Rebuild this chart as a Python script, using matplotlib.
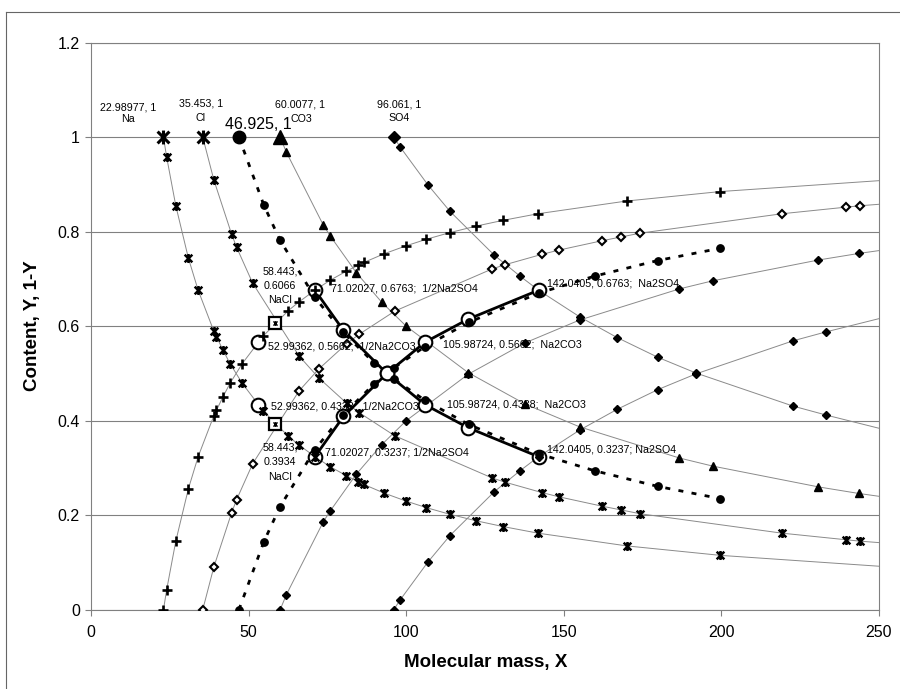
import matplotlib
matplotlib.use("Agg")
import matplotlib.pyplot as plt
from matplotlib.path import Path
from matplotlib.lines import Line2D

plt.rcParams['font.family'] = ['Liberation Sans', 'DejaVu Sans']

# ---------------- data ----------------
x_ticks = [0, 50, 100, 150, 200, 250]
x_tick_labels = ['0', '50', '100', '150', '200', '250']
y_ticks = [0, 0.2, 0.4, 0.6, 0.8, 1.0, 1.2]
y_tick_labels = ['0', '0.2', '0.4', '0.6', '0.8', '1', '1.2']

# Na : content Y and remainder 1-Y
na_x = [22.99, 24.0, 26.9, 30.9, 34.0, 39.0, 39.8, 41.9, 44.1, 48.0, 54.6, 62.6, 65.9,
        71.02, 75.8, 80.9, 84.8, 86.6, 92.9, 99.9, 106.4, 113.8, 122.3, 130.7, 141.8,
        170.0, 199.7]
na_y = [1.0, 0.958, 0.855, 0.744, 0.676, 0.589, 0.578, 0.549, 0.521, 0.479, 0.421, 0.367,
        0.349, 0.324, 0.303, 0.284, 0.271, 0.265, 0.247, 0.230, 0.216, 0.202, 0.188,
        0.176, 0.162, 0.135, 0.115]
na_rest = [0.0, 0.042, 0.145, 0.256, 0.324, 0.411, 0.422, 0.451, 0.479, 0.521, 0.579,
           0.633, 0.651, 0.676, 0.697, 0.716, 0.729, 0.735, 0.753, 0.770, 0.784, 0.798,
           0.812, 0.824, 0.838, 0.865, 0.885]
na_end = [0.092, 0.908]

# Cl
cl_x = [35.453, 39.0, 44.6, 46.2, 51.3, 66.0, 72.2, 81.1, 85.1, 96.4, 127.2, 131.3, 143.0,
        148.4, 162.2, 168.3, 174.3, 219.2, 239.6, 244.1]
cl_y = [1.0, 0.909, 0.795, 0.767, 0.691, 0.537, 0.491, 0.437, 0.417, 0.368, 0.279, 0.270,
        0.248, 0.239, 0.219, 0.211, 0.203, 0.162, 0.148, 0.145]
cl_rest = [0.0, 0.091, 0.205, 0.233, 0.309, 0.463, 0.509, 0.563, 0.583, 0.632, 0.721,
           0.730, 0.752, 0.761, 0.781, 0.789, 0.797, 0.838, 0.852, 0.855]
cl_end = [0.142, 0.858]

# 46.925 (dotted, filled circles)
mid_x = [46.925, 54.85, 59.9, 71.02, 80.0, 89.7, 96.1, 106.0, 119.8, 142.04, 159.8,
         179.8, 199.7]
mid_y = [1.0, 0.856, 0.783, 0.661, 0.587, 0.523, 0.488, 0.443, 0.392, 0.330, 0.294,
         0.261, 0.235]
mid_rest = [0.0, 0.144, 0.217, 0.339, 0.413, 0.477, 0.512, 0.557, 0.608, 0.670, 0.706,
            0.739, 0.765]

# CO3
co3_x = [60.0077, 62.0, 73.7, 75.9, 84.2, 92.2, 100.0, 119.6, 137.8, 155.0, 186.7, 197.2,
         230.7, 243.6]
co3_y = [1.0, 0.968, 0.814, 0.791, 0.713, 0.651, 0.600, 0.502, 0.435, 0.387, 0.321,
         0.304, 0.260, 0.246]
co3_rest = [0.0, 0.032, 0.186, 0.209, 0.287, 0.349, 0.400, 0.498, 0.565, 0.613, 0.679,
            0.696, 0.740, 0.754]
co3_end = [0.240, 0.760]

# SO4
so4_x = [96.061, 98.0, 106.9, 113.9, 128.0, 136.1, 142.04, 155.0, 166.9, 179.9, 191.9,
         222.7, 233.2]
so4_y = [1.0, 0.980, 0.899, 0.843, 0.750, 0.706, 0.676, 0.620, 0.576, 0.534, 0.501,
         0.431, 0.412]
so4_rest = [0.0, 0.020, 0.101, 0.157, 0.250, 0.294, 0.324, 0.380, 0.424, 0.466, 0.499,
            0.569, 0.588]
so4_end = [0.384, 0.616]

# mixture (bold line, open circles)
mix_x = [71.02027, 80.1, 93.85, 105.98724, 119.7, 142.0405]
mix_down = [0.6763, 0.591, 0.500, 0.4338, 0.385, 0.3237]
mix_up = [0.3237, 0.409, 0.500, 0.5662, 0.615, 0.6763]
half_na2co3_x = [52.99362, 52.99362]
half_na2co3_y = [0.5662, 0.4338]
nacl_x = [58.443, 58.443]
nacl_y = [0.6066, 0.3934]

# ---------------- figure ----------------
THIN = '#8a8a8a'
star = Path([(0, -1), (0, 1), (-0.85, -0.85), (0.85, 0.85), (-0.85, 0.85), (0.85, -0.85)],
            [Path.MOVETO, Path.LINETO, Path.MOVETO, Path.LINETO, Path.MOVETO, Path.LINETO])

fig = plt.figure(figsize=(9, 6.89), dpi=100)
ax = fig.add_axes([91 / 900, 1 - 609.7 / 689, 788 / 900, 567 / 689])
ax.set_xlim(0, 250)
ax.set_ylim(0, 1.2)
ax.set_xticks(x_ticks)
ax.set_xticklabels(x_tick_labels)
ax.set_yticks(y_ticks)
ax.set_yticklabels(y_tick_labels)
ax.yaxis.grid(True, color='#808080', lw=0.8)
ax.set_axisbelow(True)
for s in ax.spines.values():
    s.set_color('#808080')
    s.set_linewidth(0.8)
ax.tick_params(direction='out', length=4, color='#808080', width=0.8,
               labelsize=11.5, pad=4)
ax.tick_params(axis='x', pad=7)


def thin(xs, ys, end=None):
    xx = list(xs) + ([250] if end is not None else [])
    yy = list(ys) + ([end] if end is not None else [])
    ax.plot(xx, yy, color=THIN, lw=0.7, zorder=2)


thin(na_x, na_y, na_end[0])
thin(na_x, na_rest, na_end[1])
thin(cl_x, cl_y, cl_end[0])
thin(cl_x, cl_rest, cl_end[1])
thin(co3_x, co3_y, co3_end[0])
thin(co3_x, co3_rest, co3_end[1])
thin(so4_x, so4_y, so4_end[0])
thin(so4_x, so4_rest, so4_end[1])

# dotted 46.925 curves
for yy in (mid_y, mid_rest):
    ax.plot(mid_x, yy, color='k', lw=2.0, ls=(0, (1.8, 3.0)), zorder=2.5)

# bold mixture lines + open circles
ax.plot(mix_x, mix_down, color='k', lw=2.0, zorder=3)
ax.plot(mix_x, mix_up, color='k', lw=2.0, zorder=3)
oc = dict(ls='none', marker='o', ms=9.8, mfc='white', mec='k', mew=1.5, zorder=3.5)
ax.plot(mix_x, mix_down, **oc)
ax.plot(mix_x, mix_up, **oc)
ax.plot(half_na2co3_x, half_na2co3_y, **oc)

K = 'k'
# Na
ax.plot(na_x[1:], na_y[1:], ls='none', marker=star, ms=6.5, mew=1.8, color=K, zorder=5)
ax.plot(na_x[:1], na_y[:1], ls='none', marker=star, ms=10, mew=2.2, color=K, zorder=5)
ax.plot(na_x, na_rest, ls='none', marker='+', ms=7.5, mew=1.9, color=K, zorder=5)
# Cl
ax.plot(cl_x[1:], cl_y[1:], ls='none', marker=star, ms=6.5, mew=1.8, color=K, zorder=5)
ax.plot(cl_x[:1], cl_y[:1], ls='none', marker=star, ms=10, mew=2.2, color=K, zorder=5)
ax.plot(cl_x, cl_rest, ls='none', marker='D', ms=3.6, mfc='white', mec=K, mew=1.5, zorder=5)
# 46.925
ax.plot(mid_x[1:], mid_y[1:], ls='none', marker='o', ms=5.3, color=K, zorder=5)
ax.plot(mid_x[:1], mid_y[:1], ls='none', marker='o', ms=9, color=K, zorder=5)
ax.plot(mid_x, mid_rest, ls='none', marker='o', ms=5.3, color=K, zorder=5)
# CO3
ax.plot(co3_x[1:], co3_y[1:], ls='none', marker='^', ms=5.8, color=K, zorder=5)
ax.plot(co3_x[:1], co3_y[:1], ls='none', marker='^', ms=9.5, color=K, zorder=5)
ax.plot(co3_x, co3_rest, ls='none', marker='D', ms=3.9, color=K, zorder=5)
# SO4
ax.plot(so4_x[1:6] + so4_x[7:], so4_y[1:6] + so4_y[7:], ls='none', marker='D', ms=3.9,
        color=K, zorder=5)
ax.plot(so4_x[:1], so4_y[:1], ls='none', marker='D', ms=6.2, color=K, zorder=5)
ax.plot(so4_x, so4_rest, ls='none', marker='D', ms=3.9, color=K, zorder=5)
# NaCl boxes
ax.plot(nacl_x, nacl_y, ls='none', marker='s', ms=8, mfc='white', mec=K, mew=1.6, zorder=6)
ax.plot(nacl_x, nacl_y, ls='none', marker=star, ms=3.5, mew=1.0, color=K, zorder=6.5)

# ---------------- labels ----------------
fs = 7.7
ctr = [("22.98977, 1", 11.8, 1.063), ("Na", 11.8, 1.038),
       ("35.453, 1", 34.85, 1.072), ("Cl", 34.9, 1.040),
       ("60.0077, 1", 66.3, 1.070), ("CO3", 66.6, 1.038),
       ("96.061, 1", 97.8, 1.070), ("SO4", 97.8, 1.040),
       ("58.443,", 59.9, 0.715), ("0.6066", 59.9, 0.686), ("NaCl", 59.9, 0.655),
       ("58.443,", 59.9, 0.343), ("0.3934", 59.9, 0.312), ("NaCl", 59.9, 0.280)]
for t, x, y in ctr:
    ax.text(x, y, t, ha='center', va='center', fontsize=fs, zorder=7)
ax.text(53.0, 1.026, "46.925, 1", ha='center', va='center', fontsize=11.5, zorder=7)

lft = [("71.02027, 0.6763;  1/2Na2SO4", 76.3, 0.679),
       ("52.99362, 0.5662;  1/2Na2CO3", 56.2, 0.557),
       ("52.99362, 0.4338;  1/2Na2CO3", 57.0, 0.431),
       ("71.02027, 0.3237; 1/2Na2SO4", 74.2, 0.332),
       ("105.98724, 0.5662;  Na2CO3", 111.7, 0.562),
       ("105.98724, 0.4338;  Na2CO3", 112.8, 0.435),
       ("142.0405, 0.6763;  Na2SO4", 144.6, 0.691),
       ("142.0405, 0.3237; Na2SO4", 144.6, 0.338)]
for t, x, y in lft:
    ax.text(x, y, t, ha='left', va='center', fontsize=fs, zorder=7)

fig.text(486 / 900, 1 - 663 / 689, "Molecular mass, X", ha='center', va='center',
         fontsize=13.5, fontweight='bold')
fig.text(33 / 900, 1 - 326 / 689, "Content, Y, 1-Y", ha='center', va='center',
         rotation=90, fontsize=13.5, fontweight='bold')

# chart-area border (left and top visible)
fig.add_artist(Line2D([6 / 900, 6 / 900], [0, 1 - 12 / 689], transform=fig.transFigure,
                      color='#666666', lw=0.8))
fig.add_artist(Line2D([6 / 900, 1], [1 - 12 / 689, 1 - 12 / 689], transform=fig.transFigure,
                      color='#666666', lw=0.8))

fig.savefig("out.png", dpi=100)
